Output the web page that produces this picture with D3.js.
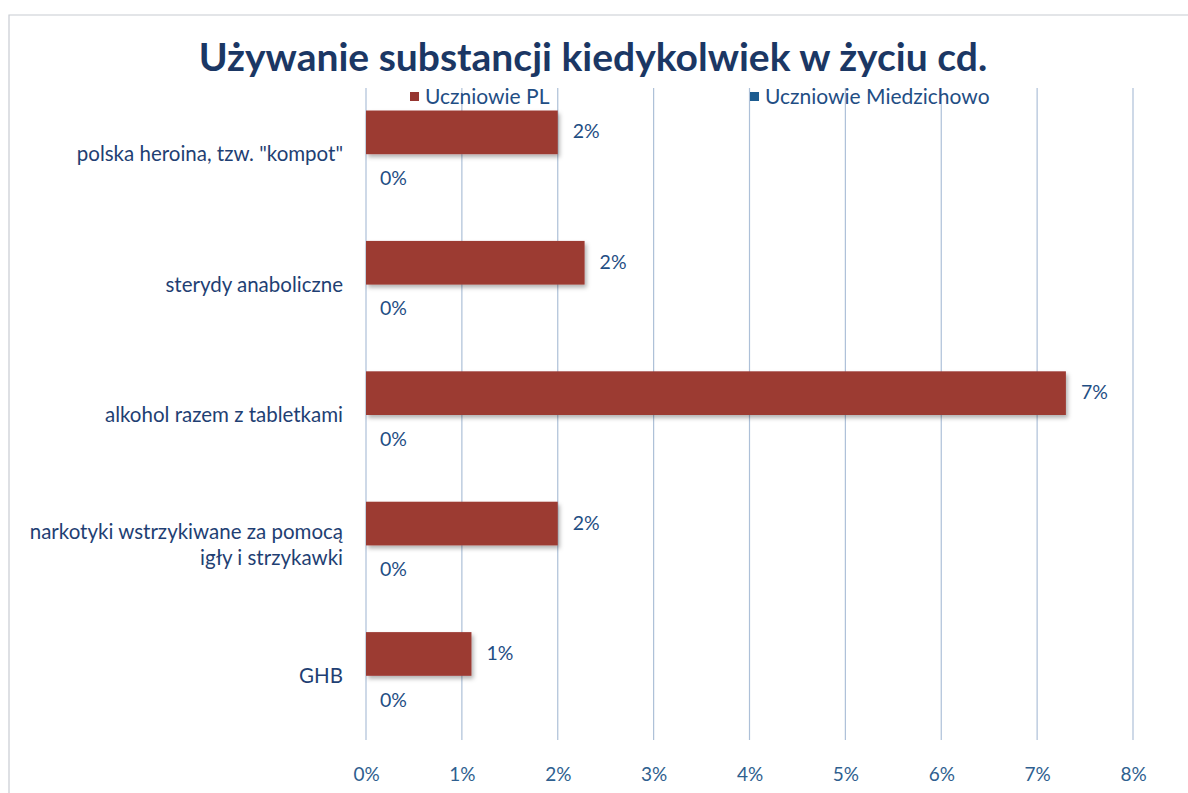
<!DOCTYPE html>
<html><head><meta charset="utf-8">
<script src="https://cdn.jsdelivr.net/npm/d3@7"></script>
<style>
html,body{margin:0;padding:0;background:#fff;}
svg{display:block;font-family:Lato,"Open Sans",sans-serif;}
</style></head>
<body><svg id="c" width="1188" height="793"></svg>
<script>
const categories = ['polska heroina, tzw. "kompot"', 'sterydy anaboliczne', 'alkohol razem z tabletkami', 'narkotyki wstrzykiwane za pomocą|igły i strzykawki', 'GHB'];
const seriesNames = ['Uczniowie PL', 'Uczniowie Miedzichowo'];
const valuesPL = [2.0, 2.28, 7.3, 2.0, 1.1];
const labelsPL = ['2%', '2%', '7%', '2%', '1%'];
const valuesMiedzichowo = [0, 0, 0, 0, 0];
const labelsMiedzichowo = ['0%', '0%', '0%', '0%', '0%'];
const xTicks = [0,1,2,3,4,5,6,7,8];
const title = 'Używanie substancji kiedykolwiek w życiu cd.';

const svg = d3.select('#c');
const W = 1188, H = 793;
const plot = {left: 366, right: 1133, top: 88, bottom: 740};

const defs = svg.append('defs');
const f = defs.append('filter').attr('id','sh').attr('x','-5%').attr('y','-20%').attr('width','115%').attr('height','160%');
f.append('feDropShadow').attr('dx',2).attr('dy',3).attr('stdDeviation',2).attr('flood-color','#000').attr('flood-opacity',0.3);

// frame
svg.append('rect').attr('x',0).attr('y',0).attr('width',W).attr('height',H).attr('fill','#fff');
svg.append('path').attr('d',`M9,${H} V15 H${W}`).attr('fill','none').attr('stroke','#c8ccd2').attr('stroke-width',1.2);

const x = d3.scaleLinear().domain([0,8]).range([plot.left, plot.right]);
const y = d3.scaleBand().domain(categories).range([plot.top, plot.bottom]).paddingInner(0.33).paddingOuter(0.165);
const ySub = d3.scaleBand().domain(seriesNames).range([0, y.bandwidth()]);

// gridlines
svg.append('g').selectAll('line').data(xTicks).join('line')
  .attr('x1', d=>x(d)).attr('x2', d=>x(d)).attr('y1', plot.top).attr('y2', plot.bottom)
  .attr('stroke','#adc0d8').attr('stroke-width',1.2);

// x axis labels
const xAxis = d3.axisBottom(x).tickValues(xTicks).tickFormat(d=>d+'%').tickSize(0).tickPadding(0);
const gx = svg.append('g').attr('transform',`translate(0,${plot.bottom+27})`).call(xAxis);
gx.select('.domain').remove();
gx.selectAll('text').attr('fill','#2f5f8f').attr('font-size',19).attr('font-family','Lato, sans-serif');

// category labels
categories.forEach(c=>{
  const lines = c.split('|');
  const cy = y(c) + y.bandwidth()/2;
  const t = svg.append('text').attr('text-anchor','end').attr('fill','#1f3f73').attr('font-size',20.5);
  lines.forEach((ln,i)=>{
    t.append('tspan').attr('x', 343).attr('y', cy + 8 + (i - (lines.length-1)/2)*26 ).text(ln);
  });
});

// bars PL
const barsPL = categories.map((c,i)=>({c, v: valuesPL[i], l: labelsPL[i]}));
svg.append('g').selectAll('rect').data(barsPL).join('rect')
  .attr('x', x(0)).attr('y', d=>y(d.c)+ySub(seriesNames[0])+1)
  .attr('width', d=>x(d.v)-x(0)).attr('height', ySub.bandwidth())
  .attr('fill','#9c3a33').attr('filter','url(#sh)');
svg.append('g').selectAll('text').data(barsPL).join('text')
  .attr('x', d=>x(d.v)+15).attr('y', d=>y(d.c)+ySub(seriesNames[0])+ySub.bandwidth()/2+7)
  .attr('fill','#1f4e84').attr('font-size',19.5).text(d=>d.l);

// bars Miedzichowo (zero)
const barsM = categories.map((c,i)=>({c, v: valuesMiedzichowo[i], l: labelsMiedzichowo[i]}));
svg.append('g').selectAll('rect').data(barsM).join('rect')
  .attr('x', x(0)).attr('y', d=>y(d.c)+ySub(seriesNames[1]))
  .attr('width', d=>x(d.v)-x(0)).attr('height', ySub.bandwidth())
  .attr('fill','#1f5f91');
svg.append('g').selectAll('text').data(barsM).join('text')
  .attr('x', d=>x(d.v)+14).attr('y', d=>y(d.c)+ySub(seriesNames[1])+ySub.bandwidth()/2+10)
  .attr('fill','#1f4e84').attr('font-size',19.5).text(d=>d.l);

// title
svg.append('text').attr('x', 593).attr('y', 71).attr('text-anchor','middle')
  .attr('fill','#1b3764').attr('font-size',39).attr('font-weight','bold').text(title);

// legend
const legendX = [410, 750];
const legendColors = ['#963631', '#1d5c90'];
seriesNames.forEach((s,i)=>{
  svg.append('rect').attr('x', legendX[i]).attr('y', 92).attr('width',9).attr('height',9).attr('fill',legendColors[i]);
  svg.append('text').attr('x', legendX[i]+15).attr('y', 104).attr('fill','#1f4e84').attr('font-size',21).text(s);
});
</script></body></html>
